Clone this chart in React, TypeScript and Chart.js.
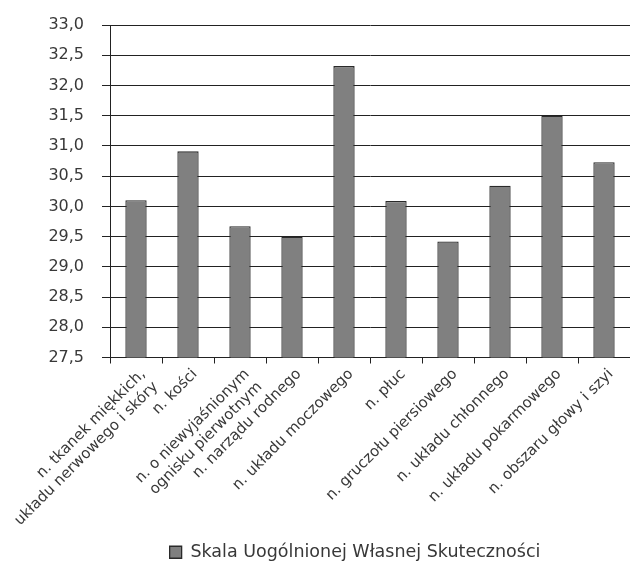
import React, { useEffect, useRef } from "react";
import { Chart, registerables } from "chart.js";

Chart.register(...registerables);

const categories: (string | string[])[] = [
  ["n. tkanek miękkich,", "układu nerwowego i skóry"],
  "n. kości",
  ["n. o niewyjaśnionym", "ognisku pierwotnym"],
  "n. narządu rodnego",
  "n. układu moczowego",
  "n. płuc",
  "n. gruczołu piersiowego",
  "n. układu chłonnego",
  "n. układu pokarmowego",
  "n. obszaru głowy i szyi",
];

const seriesLabel = "Skala Uogólnionej Własnej Skuteczności";
const values = [30.1, 30.91, 29.67, 29.5, 32.32, 30.09, 29.42, 30.34, 31.5, 30.73];

const yMin = 27.5;
const yMax = 33.0;
const yStep = 0.5;

const FONT = "'DejaVu Sans', sans-serif";
const TEXT = "#383838";
const LINE = "#222222";

export default function App() {
  const ref = useRef<HTMLCanvasElement | null>(null);

  useEffect(() => {
    if (!ref.current) return;
    const chart = new Chart(ref.current, {
      type: "bar",
      data: {
        labels: categories,
        datasets: [
          {
            label: seriesLabel,
            data: values,
            backgroundColor: "#808080",
            borderColor: "#2a2a2a",
            borderWidth: 1.3,
            borderSkipped: false,
            barPercentage: 0.41,
            categoryPercentage: 1.0,
          },
        ],
      },
      options: {
        animation: false,
        responsive: false,
        layout: { padding: { top: 25, right: 0, bottom: 0, left: 0 } },
        plugins: {
          legend: {
            position: "bottom",
            labels: {
              font: { family: FONT, size: 17.5 },
              color: TEXT,
              boxWidth: 12,
              boxHeight: 12,
              padding: 10,
            },
          },
          tooltip: { enabled: false },
        },
        scales: {
          x: {
            grid: {
              drawOnChartArea: false,
              drawTicks: true,
              tickLength: 6,
              color: LINE,
              offset: true,
            },
            border: { color: LINE, width: 1 },
            ticks: {
              font: { family: FONT, size: 15 },
              color: TEXT,
              maxRotation: 45,
              minRotation: 45,
              autoSkip: false,
              padding: 2,
              labelOffset: 7,
            },
            afterFit: (s: any) => {
              s.height = 176;
              s.paddingLeft = 0;
              s.paddingRight = 0;
            },
          },
          y: {
            min: yMin,
            max: yMax,
            grid: { color: LINE, lineWidth: 1, tickLength: 8 },
            border: { color: LINE, width: 1 },
            ticks: {
              stepSize: yStep,
              font: { family: FONT, size: 16 },
              color: TEXT,
              padding: 18,
              callback: (v: any) => Number(v).toFixed(1).replace(".", ","),
            },
            afterFit: (s: any) => {
              s.width = 110;
              s.paddingTop = 0;
              s.paddingBottom = 0;
            },
          },
          spacer: {
            type: "linear",
            position: "right",
            display: true,
            grid: { display: false, drawTicks: false },
            border: { display: false },
            ticks: { display: false },
            afterFit: (s: any) => {
              s.width = 80;
              s.paddingTop = 0;
              s.paddingBottom = 0;
            },
          },
        },
      },
    });
    return () => chart.destroy();
  }, []);

  return (
    <div
      style={{
        position: "fixed",
        left: 0,
        top: 0,
        width: 630,
        height: 563,
        overflow: "hidden",
        background: "#fff",
      }}
    >
      <canvas ref={ref} width={710} height={571} style={{ width: 710, height: 571, display: "block" }} />
    </div>
  );
}
